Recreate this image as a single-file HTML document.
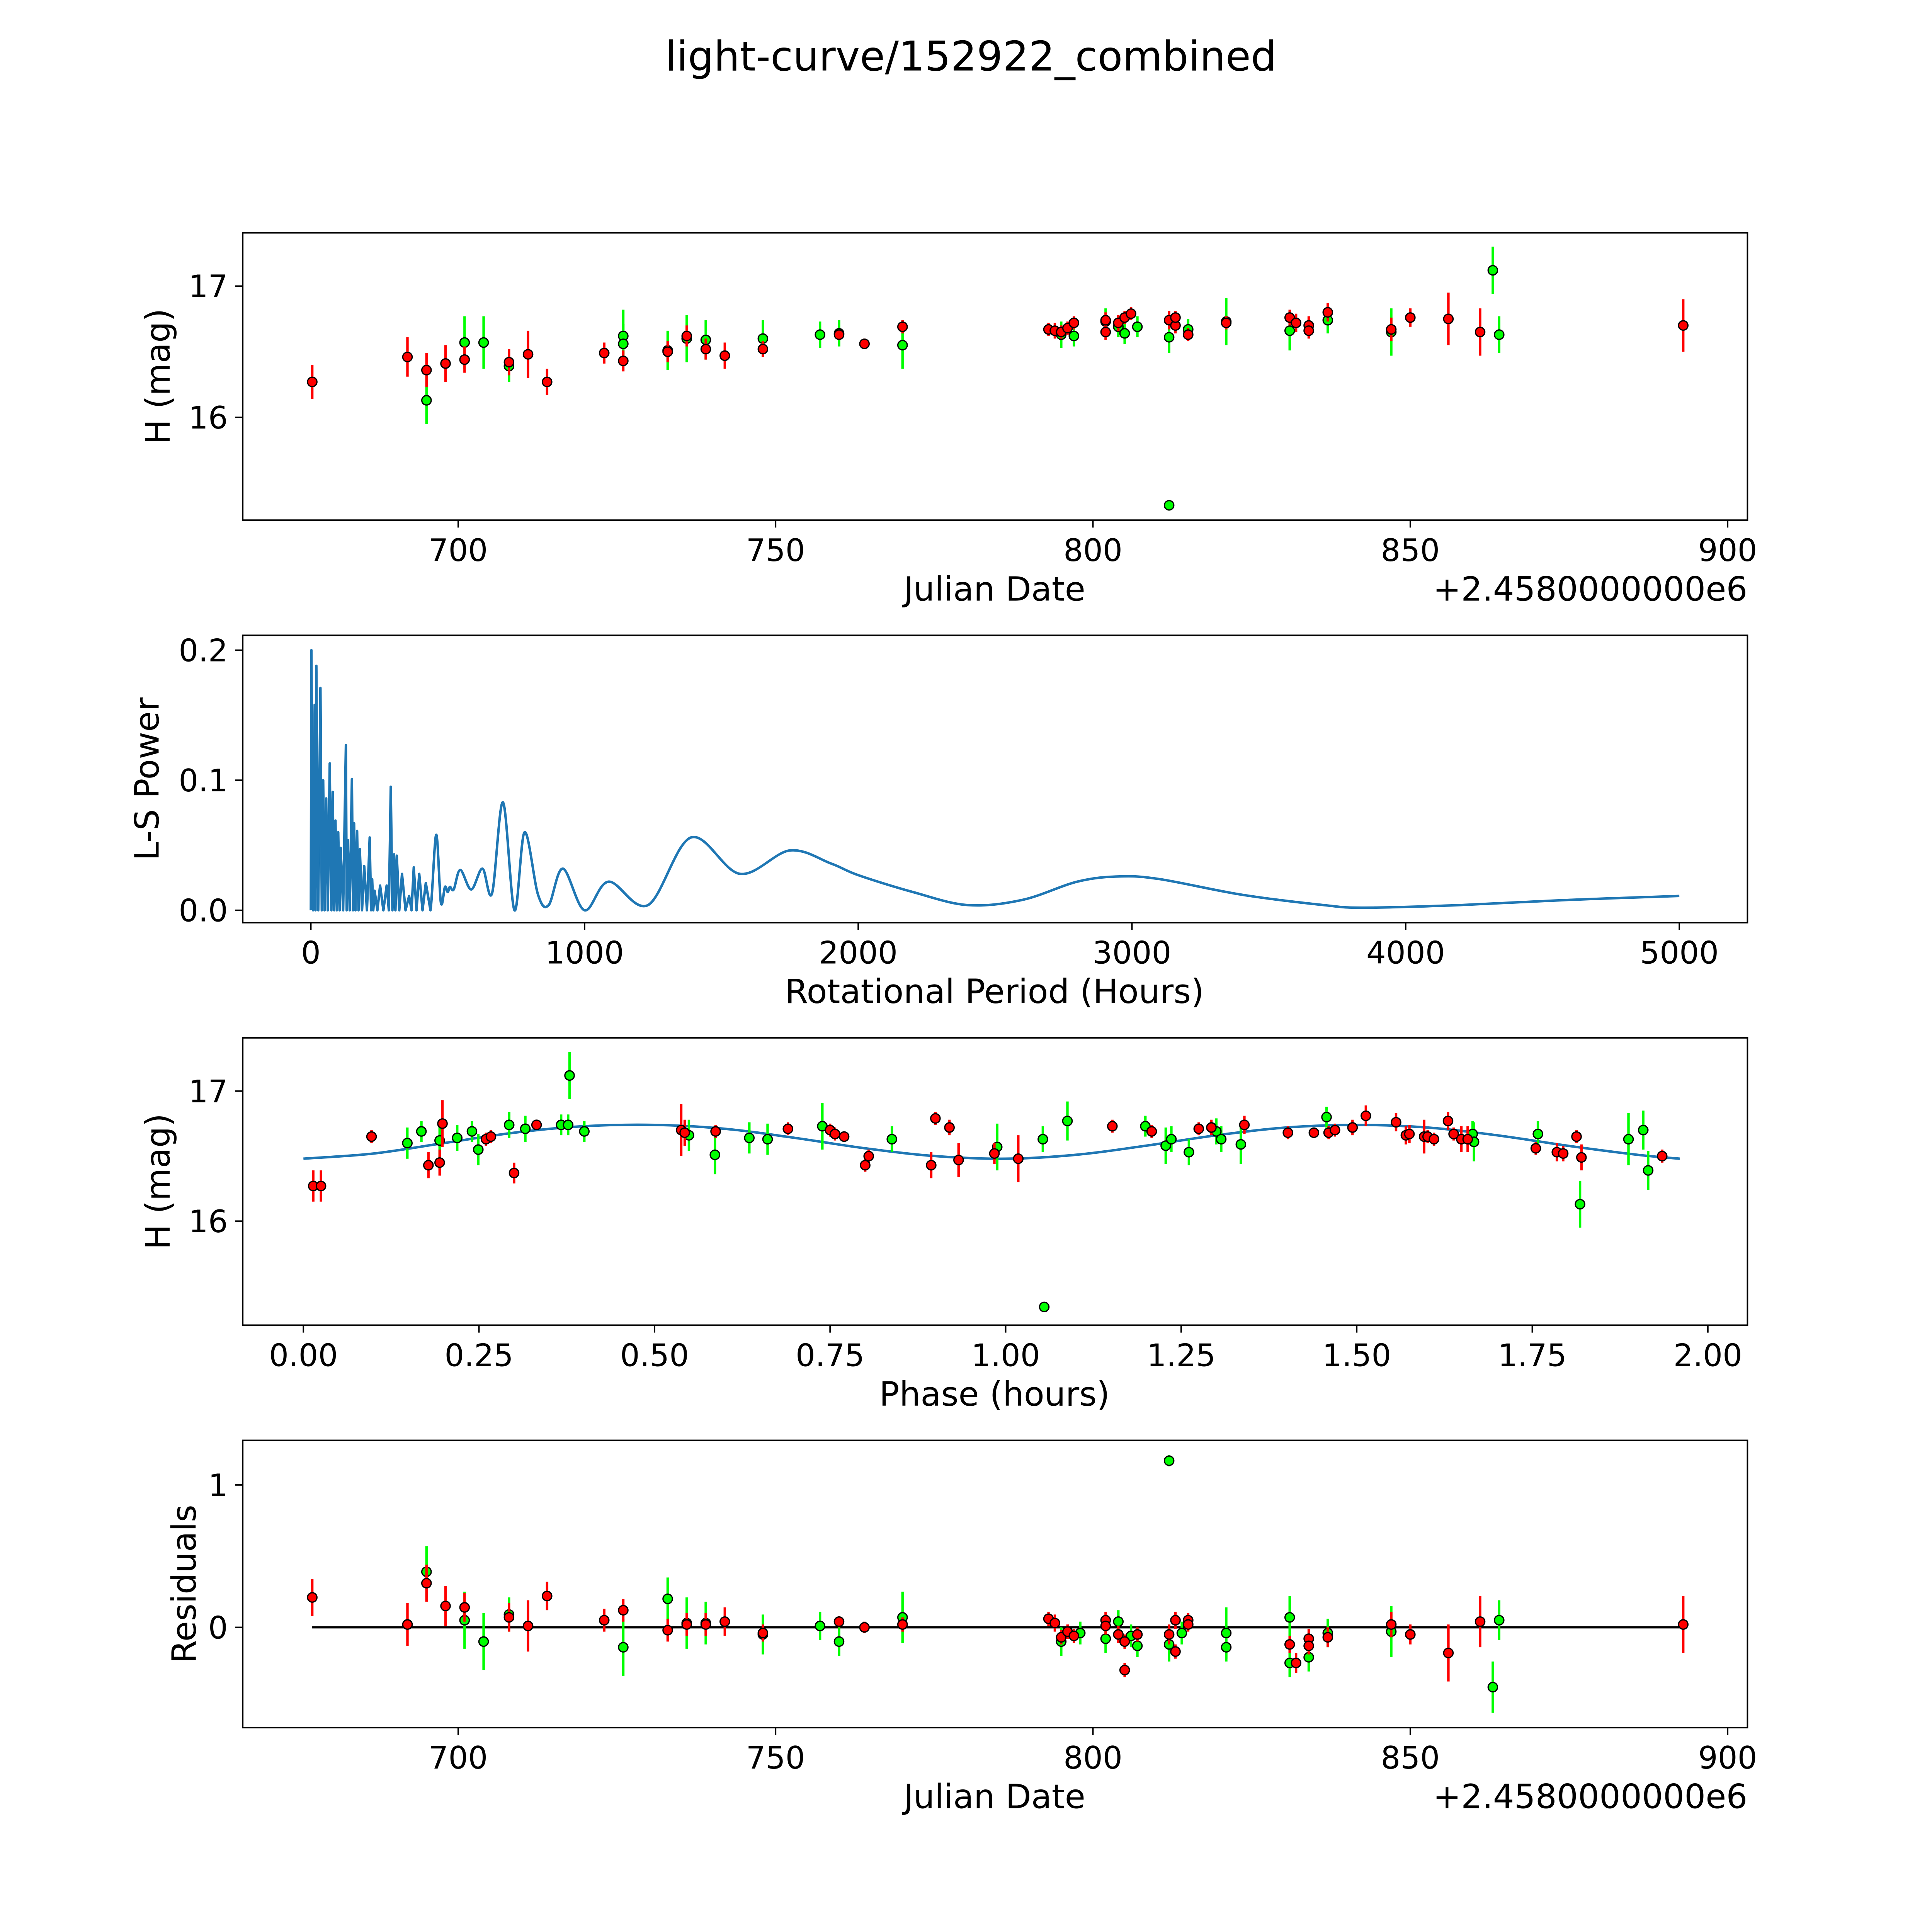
<!DOCTYPE html>
<html><head><meta charset="utf-8"><style>
html,body{margin:0;padding:0;background:#fff;overflow:hidden;width:100%;height:100%}
svg{display:block;position:fixed;left:0;top:0;width:100vw;height:100vh}
text{font-family:"DejaVu Sans","Liberation Sans",sans-serif;fill:#000}
</style></head><body>
<svg id="fig" viewBox="0 0 1560 1560" preserveAspectRatio="none" xmlns="http://www.w3.org/2000/svg">
<rect width="1560" height="1560" fill="#fff"/>
<text x="784" y="57" font-size="33" text-anchor="middle">light-curve/152922_combined</text>
<g id="layer"></g>
</svg>
<script>
// ---- Panel 1: raw light curve [jd, mag, err]
const redJD = [[677,16.27,.13],[692,16.46,.15],[695,16.36,.13],[698,16.41,.14],[701,16.44,.1],[708,16.42,.1],[711,16.48,.18],[714,16.27,.1],[723,16.49,.08],[726,16.43,.08],[733,16.50,.08],[736,16.62,.08],[739,16.52,.08],[742,16.47,.1],[748,16.52,.06],[760,16.63,.04],[764,16.56,.04],[770,16.69,.05],[793,16.67,.05],[794,16.66,.06],[795,16.65,.05],[796,16.68,.05],[797,16.72,.05],[802,16.74,.06],[802,16.65,.06],[804,16.72,.06],[805,16.76,.05],[806,16.79,.05],[812,16.74,.07],[813,16.70,.06],[813,16.76,.05],[815,16.63,.05],[821,16.72,.05],[831,16.76,.06],[832,16.72,.07],[834,16.70,.07],[834,16.66,.06],[837,16.80,.07],[847,16.67,.09],[850,16.76,.07],[856,16.75,.2],[861,16.65,.18],[893,16.70,.2]];
const greenJD = [[695,16.13,.18],[701,16.57,.2],[704,16.57,.2],[708,16.39,.12],[726,16.62,.2],[726,16.56,.15],[733,16.51,.15],[736,16.60,.18],[739,16.59,.15],[748,16.60,.14],[757,16.63,.1],[760,16.64,.1],[770,16.55,.18],[795,16.63,.1],[797,16.62,.08],[802,16.73,.1],[804,16.69,.08],[805,16.64,.08],[807,16.69,.08],[812,16.61,.12],[812,15.33,.04],[815,16.67,.08],[821,16.73,.18],[831,16.66,.15],[837,16.74,.1],[847,16.65,.18],[863,17.12,.18],[864,16.63,.14]];
// ---- Panel 2: periodogram
const lsPeriod = [0,2,8,14,17,20,27,35,40,45,50,56,62,69,75,80,85,90,95,100,105,109,118,128,131,135,142,150,154,158,163,169,174,179,187,195,205,215,220,224,228,233,243,253,265,277,285,292,298,304,309,314,323,333,346,359,368,376,386,396,408,420,437,458,475,490,500,508,522,546,586,627,662,702,744,781,830,869,921,1000,1088,1232,1389,1568,1750,1900,2000,2200,2400,2600,2800,2950,3100,3400,3700,3850,4200,4600,5000];
const lsPower  = [0,.2,0,.158,0,.188,0,.171,0,.10,0,.086,0,.113,0,.091,0,.069,0,.06,0,.048,0,.127,0,.054,0,.101,0,.067,0,.061,0,.047,0,.034,0,.056,0,.024,0,.015,0,.019,0,.019,0,.095,0,.043,0,.042,0,.028,0,.011,0,.033,0,.028,0,.021,0,.058,.006,.018,.014,.018,.016,.031,.016,.032,.013,.083,0,.060,.012,.004,.032,0,.022,.004,.056,.028,.046,.036,.027,.014,.004,.008,.022,.026,.024,.012,.004,.002,.004,.008,.011];
// ---- Panel 3: phased [phase, mag, err]
const redPh = [[.014,16.27,.12],[.025,16.27,.12],[.097,16.65,.05],[.178,16.43,.1],[.194,16.45,.1],[.198,16.75,.18],[.26,16.63,.05],[.267,16.65,.05],[.3,16.37,.08],[.332,16.74,.04],[.538,16.70,.2],[.543,16.68,.1],[.587,16.69,.05],[.69,16.71,.05],[.75,16.70,.05],[.757,16.67,.05],[.77,16.65,.04],[.80,16.43,.05],[.805,16.50,.05],[.894,16.43,.1],[.9,16.79,.05],[.92,16.72,.06],[.933,16.47,.13],[.984,16.52,.08],[1.018,16.48,.18],[1.152,16.73,.05],[1.208,16.69,.05],[1.275,16.71,.05],[1.293,16.72,.06],[1.34,16.74,.07],[1.402,16.68,.05],[1.439,16.68,.04],[1.46,16.68,.05],[1.469,16.70,.05],[1.494,16.72,.06],[1.513,16.81,.08],[1.556,16.76,.07],[1.57,16.66,.07],[1.575,16.67,.07],[1.596,16.65,.13],[1.601,16.65,.05],[1.61,16.63,.05],[1.63,16.77,.07],[1.638,16.67,.05],[1.649,16.63,.1],[1.658,16.63,.1],[1.755,16.56,.05],[1.785,16.53,.07],[1.794,16.52,.06],[1.813,16.65,.05],[1.82,16.49,.1],[1.935,16.50,.05]];
const greenPh = [[.148,16.60,.12],[.168,16.69,.08],[.194,16.62,.15],[.219,16.64,.1],[.24,16.69,.08],[.249,16.55,.12],[.293,16.74,.1],[.316,16.71,.1],[.367,16.74,.08],[.377,16.74,.08],[.379,17.12,.18],[.40,16.69,.08],[.549,16.66,.12],[.586,16.51,.15],[.635,16.64,.12],[.661,16.63,.12],[.739,16.73,.18],[.838,16.63,.1],[.988,16.57,.18],[1.053,16.63,.1],[1.055,15.34,.04],[1.088,16.77,.15],[1.199,16.73,.08],[1.228,16.58,.14],[1.236,16.63,.1],[1.261,16.53,.1],[1.30,16.69,.1],[1.307,16.63,.1],[1.335,16.59,.15],[1.457,16.80,.08],[1.665,16.67,.1],[1.667,16.61,.15],[1.758,16.67,.1],[1.818,16.13,.18],[1.887,16.63,.2],[1.908,16.70,.15],[1.915,16.39,.15]];
const fitPhase = [0,.1,.2,.3,.4,.5,.6,.7,.8,.9,1.0,1.1,1.2,1.3,1.4,1.5,1.6,1.7,1.8,1.9,1.96];
const fitMag   = [16.48,16.52,16.60,16.68,16.73,16.74,16.71,16.64,16.56,16.50,16.48,16.51,16.58,16.66,16.72,16.74,16.72,16.66,16.58,16.51,16.48];
// ---- Panel 4: residuals [jd, res, err]
const redRes = [[677,.21,.13],[692,.02,.15],[695,.31,.13],[698,.15,.14],[701,.14,.1],[708,.07,.1],[711,.01,.18],[714,.22,.1],[723,.05,.08],[726,.12,.08],[733,-.02,.08],[736,.02,.08],[739,.02,.08],[742,.04,.1],[748,-.04,.06],[760,.04,.04],[764,0,.04],[770,.02,.05],[793,.06,.05],[794,.03,.06],[795,-.07,.05],[796,-.03,.05],[797,-.06,.05],[802,.05,.06],[802,.01,.06],[804,-.05,.06],[805,-.10,.05],[805,-.30,.05],[807,-.05,.05],[812,-.05,.07],[813,.05,.06],[813,-.17,.05],[815,.05,.05],[815,.02,.05],[831,-.12,.06],[832,-.25,.07],[834,-.08,.07],[834,-.13,.06],[837,-.07,.07],[847,.02,.09],[850,-.05,.07],[856,-.18,.2],[861,.04,.18],[893,.02,.2]];
const greenRes = [[695,.39,.18],[701,.05,.2],[704,-.10,.2],[708,.09,.12],[726,-.14,.2],[733,.20,.15],[736,.03,.18],[739,.03,.15],[748,-.05,.14],[757,.01,.1],[760,-.10,.1],[770,.07,.18],[795,-.10,.1],[798,-.04,.08],[802,-.08,.1],[804,.04,.08],[806,-.06,.08],[807,-.13,.08],[812,-.12,.12],[812,1.17,.04],[814,-.04,.08],[821,-.04,.18],[821,-.14,.1],[831,.07,.15],[831,-.25,.1],[834,-.21,.1],[837,-.04,.1],[847,-.03,.18],[863,-.42,.18],[864,.05,.14]];
const jdTicks = [700,750,800,850,900];
const lsTicks = [0,1000,2000,3000,4000,5000];
const phTicks = [0,.25,.5,.75,1,1.25,1.5,1.75,2];
const phTickLabels = ["0.00","0.25","0.50","0.75","1.00","1.25","1.50","1.75","2.00"];
const magTicks = [16,17];
const powTicks = [0,.1,.2];
const powTickLabels = ["0.0","0.1","0.2"];
const resTicks = [0,1];

const NS = "http://www.w3.org/2000/svg";
const layer = document.getElementById('layer');
function mk(tag, attrs, parent){const e=document.createElementNS(NS,tag);for(const k in attrs)e.setAttribute(k,attrs[k]);(parent||layer).appendChild(e);return e;}
function lin(d0,d1,r0,r1){return v=>r0+(v-d0)*(r1-r0)/(d1-d0);}

const L=196,R=1411;
const panels=[
 {top:188,bot:420,x:lin(700,900,370,1395),y:lin(16,17,337,231),name:'light-curve-panel'},
 {top:513,bot:745,x:lin(0,5000,251,1356),y:lin(0,.2,735,525),name:'periodogram-panel'},
 {top:838,bot:1070,x:lin(0,2,245,1379),y:lin(16,17,986,881),name:'phased-panel'},
 {top:1163,bot:1395,x:lin(700,900,370,1395),y:lin(0,1,1314,1199),name:'residuals-panel'}
];

function frame(p, xt, xl, yt, yl, xlabel, ylabel, offset){
  const g=mk('g',{});
  
  
  p.g=g;
  xt.forEach((v,i)=>{const X=p.x(v);
    const t=mk('line',{x1:X,x2:X,y1:p.bot,y2:p.bot+6,stroke:'#000','stroke-width':1.2},g);
    
    
    const s=mk('text',{x:X,y:p.bot+33,'font-size':25,'text-anchor':'middle'},g);s.textContent=xl[i];
    
    
  });
  yt.forEach((v,i)=>{const Y=p.y(v);
    const t=mk('line',{x1:L-6,x2:L,y1:Y,y2:Y,stroke:'#000','stroke-width':1.2},g);
    
    
    const s=mk('text',{x:L-12,y:Y+9,'font-size':25,'text-anchor':'end'},g);s.textContent=yl[i];
    
    
  });
  const xa=mk('text',{x:803,y:p.bot+65,'font-size':27,'text-anchor':'middle'},g);xa.textContent=xlabel;
  
  
  const cy=(p.top+p.bot)/2;
  const ya=mk('text',{x:0,y:0,'font-size':27,'text-anchor':'middle',transform:`translate(${ylabel.x},${cy}) rotate(-90)`},g);ya.textContent=ylabel.t;
  
  
  if(offset){const o=mk('text',{x:R,y:p.bot+65,'font-size':27,'text-anchor':'end'},g);o.textContent=offset;
    
    }
}
function border(p){
  const b=mk('rect',{x:L,y:p.top,width:R-L,height:p.bot-p.top,fill:'none',stroke:'#000','stroke-width':1.2},p.g);
  
  
}
function points(p, arr, col){
  arr.forEach(d=>{const X=p.x(d[0]);
    const e=mk('line',{x1:X,x2:X,y1:p.y(d[1]-d[2]),y2:p.y(d[1]+d[2]),stroke:col,'stroke-width':2},p.g);
    
    
  });
  arr.forEach(d=>{
    const c=mk('circle',{cx:p.x(d[0]),cy:p.y(d[1]),r:3.8,fill:col,stroke:'#000','stroke-width':1},p.g);
    
    
  });
}
// smooth path (Catmull-Rom) for points past the spiky region
function smoothPath(pts, smoothFrom){
  let d='M'+pts[0][0]+','+pts[0][1];
  for(let i=1;i<pts.length;i++){
    const p1=pts[i-1],p2=pts[i];
    if(i-1<smoothFrom){d+=' L'+p2[0]+','+p2[1];continue;}
    const p0=pts[i-2]||p1,p3=pts[i+1]||p2;
    const c1=[p1[0]+(p2[0]-p0[0])/6,p1[1]+(p2[1]-p0[1])/6];
    const c2=[p2[0]-(p3[0]-p1[0])/6,p2[1]-(p3[1]-p1[1])/6];
    d+=' C'+c1[0]+','+c1[1]+' '+c2[0]+','+c2[1]+' '+p2[0]+','+p2[1];
  }
  return d;
}
const fmt=v=>String(v);
const off='+2.4580000000e6';
let p=panels[0];
frame(p,jdTicks,jdTicks.map(fmt),magTicks,magTicks.map(fmt),'Julian Date',{x:137,t:'H (mag)'},off);
points(p,greenJD,'#00ff00');points(p,redJD,'#ff0000');border(p);
p=panels[1];
frame(p,lsTicks,lsTicks.map(fmt),powTicks,powTickLabels,'Rotational Period (Hours)',{x:128,t:'L-S Power'},null);
const lsPts=lsPeriod.map((v,i)=>[p.x(v),Math.min(p.y(0),p.y(lsPower[i]))]);
const ls=mk('path',{d:smoothPath(lsPts,62),fill:'none',stroke:'#1f77b4','stroke-width':2,'stroke-linejoin':'round'},p.g);


border(p);
p=panels[2];
frame(p,phTicks,phTickLabels,magTicks,magTicks.map(fmt),'Phase (hours)',{x:137,t:'H (mag)'},null);
const fitPts=fitPhase.map((v,i)=>[p.x(v),p.y(fitMag[i])]);
const fit=mk('path',{d:smoothPath(fitPts,0),fill:'none',stroke:'#1f77b4','stroke-width':2},p.g);


points(p,greenPh,'#00ff00');points(p,redPh,'#ff0000');border(p);
p=panels[3];
frame(p,jdTicks,jdTicks.map(fmt),resTicks,resTicks.map(fmt),'Julian Date',{x:158,t:'Residuals'},off);
const zl=mk('line',{x1:p.x(677),x2:p.x(893),y1:p.y(0),y2:p.y(0),stroke:'#000','stroke-width':1.8},p.g);


points(p,greenRes,'#00ff00');points(p,redRes,'#ff0000');border(p);
</script>
</body></html>
